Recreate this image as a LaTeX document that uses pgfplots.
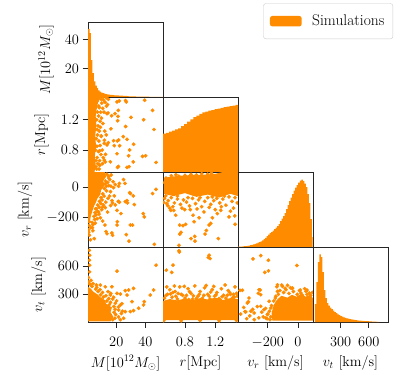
\documentclass[border=0pt]{standalone}
\usepackage{fontspec}
\usepackage{pgfplots}
\pgfplotsset{compat=1.18}
\definecolor{dorange}{RGB}{255,140,0}
\pgfplotsset{
  cp/.style={scale only axis, width=75pt, height=75pt, anchor=north west,
    axis line style={line width=0.8pt, black!85},
    tick style={line width=0.8pt, black!85},
    tick align=outside, major tick length=5.5pt,
    xtick pos=bottom, ytick pos=left,
    xtick=\empty, ytick=\empty,
    tick label style={font=\fontsize{14.4}{17}\selectfont},
    xticklabel style={yshift=-6pt},
    label style={font=\fontsize{14.4}{17}\selectfont},
    xlabel style={at={(axis description cs:0.5,-0.547)}, anchor=center},
    clip marker paths=true,
  },
  hist/.style={const plot, fill=dorange, draw=none},
  pts/.style={only marks, mark=*, mark size=1.7pt, color=dorange},
  core/.style={fill=dorange, draw=none},
}
\begin{document}
\begin{tikzpicture}
\useasboundingbox (0pt,0pt) rectangle (411pt,-389pt);
% ---------- row 1 ----------
\begin{axis}[cp, at={(88pt,-22pt)}, xmin=0.5, xmax=52.2, ymin=0.5, ymax=52.2,
  ytick={20,40}, ylabel={$M[10^{12}M_\odot]$},
  ylabel style={at={(axis description cs:-0.56,0.5)}, anchor=center},
  legend style={at={(2.337,1.249)}, anchor=north west, draw=black!20, rounded corners=2.5pt,
    font=\fontsize{15.5}{18}\selectfont, inner xsep=6.5pt, inner ysep=9.5pt,
    /tikz/every odd column/.append style={column sep=8.5pt}},
  legend image code/.code={\fill[dorange] (0pt,-5.3pt) rectangle (31.7pt,5.3pt);}]
\addplot[hist] coordinates {(0.55,0.5) (0.55,47.5) (1.55,44.6) (2.55,26) (3.55,17) (4.55,11.3) (5.55,8.3) (6.55,6.7) (7.55,5.1) (8.55,4.2) (9.55,3.6) (10.55,3.2) (11.55,2.8) (12.55,2.5) (13.55,2.3) (14.55,2.1) (15.55,2.0) (16.55,1.9) (17.55,1.8) (18.55,1.7) (19.55,1.6) (20.55,1.55) (21.55,1.5) (22.55,1.45) (23.55,1.4) (24.55,1.35) (25.55,1.3) (26.55,1.2) (27.55,1.1) (28.55,1.0) (30.55,0.9) (33.55,0.8) (37.55,0.7) (42.55,0.62) (47.55,0.58) (52.2,0.5)};
\addlegendentry{Simulations}
\end{axis}
% ---------- row 2 ----------
\begin{axis}[cp, at={(88pt,-97pt)}, xmin=0.5, xmax=52.2, ymin=0.51, ymax=1.5,
  ytick={0.8,1.2}, ylabel={$r[\mathrm{Mpc}]$},
  ylabel style={at={(axis description cs:-0.62,0.5)}, anchor=center}]
\addplot[core] coordinates {(0.5,0.51) (5,0.51) (5.8,0.6) (5.2,0.72) (6,0.85) (5.5,1.0) (6.3,1.12) (5.8,1.25) (6.8,1.38) (8,1.46) (10,1.5) (0.5,1.5)};
\addplot[pts] coordinates {(26.4,1.453) (39.5,1.457) (21.4,1.324) (14.3,1.289) (45.0,1.324) (30.1,1.231) (38.8,1.200) (16.8,1.253) (21.2,1.244) (20.9,1.187) (46.0,1.071) (16.3,1.080) (24.8,0.977) (27.4,0.942) (20.7,0.920) (18.6,0.857) (22.3,0.857) (31.9,0.876) (11.7,0.889) (20.5,0.751) (28.5,0.724) (38.1,0.716) (12.4,0.644) (47.4,0.636) (21.4,0.583) (28.8,0.580) (31.7,0.644) (8.5,0.600) (12.6,0.743) (14.5,0.897) (9.7,0.987)
(26.9,1.436) (22.1,1.449) (20.5,1.436) (14.0,1.40) (26.4,1.111) (19.1,1.28) (13.6,1.28) (29.2,0.80) (40.2,0.724) (27.4,0.571) (20.9,0.571) (15.9,0.644) (11.7,0.667) (18.1,0.923) (21.6,0.933) (13.1,1.0) (8.5,0.79) (13.6,0.867)
(6.5,0.55) (7.2,0.62) (6.8,0.7) (7.6,0.78) (6.6,0.85) (8.0,0.92) (7.1,1.0) (8.3,1.05) (7.4,1.12) (8.8,1.18) (7.8,1.25) (9.2,1.3) (8.2,1.36) (10.0,1.42) (9.5,1.47) (11.2,1.46) (12.3,1.43) (10.6,1.35) (9.8,1.22) (9.0,1.1) (9.6,0.98) (8.9,0.86) (9.4,0.74) (8.5,0.66) (8.2,0.55) (10.3,0.8) (10.8,1.15) (11.5,1.3) (8.6,0.6) (7.9,1.38) (5.9,0.58) (6.2,0.95) (6.4,1.2) (7.0,1.45) (14.5,1.47) (13.2,1.38) (12.1,1.05) (11.8,0.93) (10.5,0.62) (11.0,0.7) (6.0,0.66) (6.8,1.07) (7.0,1.3) (5.6,0.8) (10.8,1.5) (13.0,1.49)};
\end{axis}
\begin{axis}[cp, at={(163pt,-97pt)}, xmin=0.51, xmax=1.5, ymin=0, ymax=75]
\addplot[hist] coordinates {(0.51,0) (0.51,38.4) (0.55,39.2) (0.59,40.3) (0.63,41.4) (0.67,42.6) (0.71,43.7) (0.75,46.0) (0.79,47.9) (0.83,50.4) (0.87,52.6) (0.91,54.8) (0.95,56.4) (0.99,58.2) (1.03,59.6) (1.07,60.3) (1.11,61.4) (1.15,62.0) (1.19,62.8) (1.23,63.5) (1.27,64.2) (1.31,64.8) (1.35,65.3) (1.39,66.0) (1.43,66.5) (1.47,67.1) (1.5,0)};
\end{axis}
% ---------- row 3 ----------
\begin{axis}[cp, at={(88pt,-172pt)}, xmin=0.5, xmax=52.2, ymin=-398, ymax=100,
  ytick={-200,0}, ylabel={$v_r\ [\mathrm{km/s}]$},
  ylabel style={at={(axis description cs:-0.84,0.5)}, anchor=center}]
\addplot[core] coordinates {(0.5,100) (12,100) (13,70) (11,40) (12,10) (9.5,-20) (9,-50) (7,-75) (6,-100) (4.5,-130) (3.5,-160) (2.5,-190) (2,-220) (0.5,-240)};
\addplot[pts] coordinates {(14.7,71) (12.4,21) (16.3,6) (22.1,24) (19.3,17) (26.0,24) (29.2,-37) (47.4,-15) (45.0,-43) (31.7,-58) (22.1,-101) (26.2,-97) (27.8,-105) (32.4,-116) (17.0,-90) (16.1,-123) (20.5,-155) (23.2,-176) (14.0,-166) (9.0,-204) (10.6,-226) (12.2,-252) (20.7,-230) (20.5,-252) (29.7,-252) (31.2,-252) (38.6,-176) (39.3,-198) (12.9,-295) (17.4,-320) (26.9,-316) (28.8,-359) (4.8,-342) (46.2,-380) (1.4,-230) (0.9,-284)
(25.0,50) (21.6,6) (18.1,-4) (18.6,-58) (29.7,-43) (27.4,-90) (21.4,-95) (17.4,-105) (19.3,-118) (12.4,-137) (7.8,-166) (5.7,-144) (10.5,-133) (13.6,-310) (17.0,-305)
(13.5,85) (14.8,60) (12.6,40) (14,30) (13.2,5) (11.8,-10) (13.2,-25) (10.7,-45) (11.6,-60) (9.4,-70) (10.2,-85) (8.4,-95) (9.5,-110) (7.2,-120) (8.3,-135) (6.2,-145) (7.1,-160) (5.3,-170) (6.0,-185) (4.6,-195) (5.1,-215) (3.4,-235) (3.9,-250) (1.2,-255) (2.4,-270) (0.9,-300) (1.5,-320) (3.5,-270) (6.8,-210) (8.1,-180) (10.0,-150) (11.2,-120) (14.3,-75) (15.5,50) (14.8,10) (16.0,-30) (3.8,-290) (2.2,-350) (5.5,-240) (16.5,80) (17.8,35) (15.4,-60) (12.8,-100)};
\end{axis}
\begin{axis}[cp, at={(163pt,-172pt)}, xmin=0.51, xmax=1.5, ymin=-398, ymax=100]
\addplot[core] coordinates {(0.52,-45) (0.65,-60) (0.8,-40) (0.95,-65) (1.1,-50) (1.25,-70) (1.4,-45) (1.5,-60) (1.5,100) (1.3,100) (1.2,88) (1.05,82) (0.9,80) (0.75,76) (0.6,68) (0.52,58)};
\addplot[pts] coordinates {(0.797,-150) (0.651,-155) (0.612,-155) (0.678,-187) (0.731,-252) (0.774,-256) (0.81,-247) (0.92,-230) (0.906,-187) (0.986,-204) (1.118,-252) (1.14,-241) (1.161,-204) (1.272,-155) (1.227,-176) (1.382,-198) (1.457,-191) (1.461,-247) (0.748,-301) (0.731,-312) (0.88,-342) (0.933,-359) (0.929,-327) (1.082,-288) (1.24,-342) (0.72,-387) (1.065,-312) (0.546,-58) (0.572,-123) (0.52,-101)
(0.55,60) (0.62,75) (0.68,82) (0.8,78) (0.88,84) (0.95,80) (1.02,88) (1.1,85) (1.15,92) (0.72,72) (0.58,50) (0.53,30)
(0.53,-75) (0.58,-90) (0.62,-70) (0.66,-105) (0.7,-80) (0.74,-115) (0.78,-85) (0.82,-100) (0.86,-125) (0.9,-75) (0.94,-110) (0.98,-85) (1.02,-130) (1.06,-95) (1.1,-70) (1.14,-115) (1.18,-90) (1.22,-75) (1.26,-105) (1.3,-80) (1.34,-120) (1.38,-65) (1.42,-95) (1.46,-70) (1.49,-105) (0.64,-130) (0.76,-140) (0.96,-145) (1.12,-135) (1.28,-130) (1.44,-140) (0.56,-110) (0.84,-70) (1.0,-70) (1.16,-65) (1.32,-60) (0.7,-60) (0.87,-150) (1.2,-150) (1.4,-160) (0.6,-140) (1.05,-165)};
\end{axis}
\begin{axis}[cp, at={(238pt,-172pt)}, xmin=-398, xmax=100, ymin=0, ymax=75]
\addplot[hist] coordinates {(-398,0) (-398,0.3) (-388,0.4) (-378,0.5) (-368,0.6) (-358,0.8) (-348,1.0) (-338,1.2) (-328,1.5) (-318,1.8) (-308,2.2) (-298,2.7) (-288,3.2) (-278,3.7) (-268,4.3) (-258,5.0) (-248,5.7) (-238,6.6) (-228,7.8) (-218,9.2) (-208,10.8) (-198,12.5) (-188,13.8) (-178,15.0) (-168,16.5) (-158,18) (-148,19.5) (-138,21) (-128,23) (-118,26) (-108,28.5) (-98,31) (-88,34) (-78,38) (-68,42) (-58,46) (-48,49.5) (-38,53) (-28,56.5) (-18,59.5) (-8,62) (2,64.5) (12,66.5) (22,67.5) (32,66) (42,63.5) (52,60) (62,53) (72,44) (82,28) (92,10) (98,0)};
\end{axis}
% ---------- row 4 ----------
\begin{axis}[cp, at={(88pt,-247pt)}, xmin=0.5, xmax=52.2, ymin=5, ymax=805,
  xtick={20,40}, ytick={300,600}, xlabel={$M[10^{12}M_\odot]$}, ylabel={$v_t\ [\mathrm{km/s}]$},
  ylabel style={at={(axis description cs:-0.66,0.5)}, anchor=center}]
\addplot[core] coordinates {(0.5,12) (16,12) (18,60) (16,110) (17,160) (13,200) (12,240) (9,270) (7,300) (4,330) (2.5,360) (0.5,380)};
\addplot[pts] coordinates {(1.4,770) (1.6,717) (1.4,664) (1.6,611) (1.6,540) (20.5,547) (47.4,611) (45.7,346) (43.4,293) (31.9,364) (28.5,346) (26.2,339) (22.8,304) (20.5,311) (17.0,381) (12.4,381) (9.0,399) (19.3,205) (22.8,187) (27.4,293) (30.8,222) (29.7,116) (31.9,127) (39.3,222) (38.8,187) (35.4,152) (26.2,116) (21.6,134) (18.1,269) (15.9,293)
(17.5,30) (19,45) (19.5,85) (18.5,110) (19.2,140) (18.3,170) (15.2,190) (16.0,215) (13.5,230) (14.8,255) (11,270) (12.8,285) (9.2,295) (10.5,320) (7.5,330) (8.8,350) (5.8,355) (6.5,375) (3.2,385) (2.0,405) (1.0,430) (2.6,450) (0.8,480) (4.0,415) (6.3,400) (21.5,60) (22.8,30) (23.5,95) (21.5,165) (24.2,120) (25,45) (17.5,250) (16.2,310) (14.3,330) (20.2,230) (23.8,200)};
\end{axis}
\begin{axis}[cp, at={(163pt,-247pt)}, xmin=0.51, xmax=1.5, ymin=5, ymax=805,
  xtick={0.8,1.2}, xlabel={$r[\mathrm{Mpc}]$}]
\addplot[core] coordinates {(0.51,25) (1.5,25) (1.5,250) (1.4,260) (1.3,240) (1.2,265) (1.1,245) (1.0,260) (0.9,240) (0.8,255) (0.7,235) (0.6,250) (0.51,230)};
\addplot[pts] coordinates {(0.721,763) (1.118,717) (1.131,682) (0.554,558) (0.642,611) (0.625,534) (0.725,752) (1.108,693)
(0.53,260) (0.57,300) (0.6,350) (0.63,270) (0.67,330) (0.7,250) (0.73,380) (0.77,290) (0.8,260) (0.84,360) (0.88,310) (0.9,250) (0.93,390) (0.97,280) (1.0,330) (1.03,260) (1.06,370) (1.1,300) (1.13,250) (1.16,350) (1.19,280) (1.22,320) (1.25,255) (1.28,360) (1.31,290) (1.34,260) (1.37,340) (1.4,300) (1.43,265) (1.46,380) (1.48,310) (0.56,380) (0.66,390) (0.79,385) (1.08,395) (1.18,385) (1.33,400) (1.45,270) (0.95,255) (0.71,310) (1.26,245) (1.41,245) (0.85,245)
(0.55,290) (0.61,305) (0.68,280) (0.75,300) (0.82,290) (0.91,285) (0.99,300) (1.05,290) (1.12,280) (1.21,295) (1.29,275) (1.36,290) (1.44,300) (1.49,280) (0.64,320) (0.86,330) (1.14,325) (1.39,320) (0.52,20) (0.75,18) (1.0,20) (1.25,18) (1.48,22)};
\end{axis}
\begin{axis}[cp, at={(238pt,-247pt)}, xmin=-398, xmax=100, ymin=5, ymax=805,
  xtick={-200,0}, xlabel={$v_r\ [\mathrm{km/s}]$}]
\addplot[core] coordinates {(-170,20) (100,20) (100,260) (80,295) (50,275) (20,305) (-10,275) (-40,295) (-70,265) (-110,285) (-140,240) (-160,190) (-175,100)};
\addplot[pts] coordinates {(-298,678) (-247,714) (-220,534) (-196,551) (-7,608) (-196,664)
(-385,343) (-369,343) (-325,261) (-258,349) (-247,296) (-336,208) (-313,120) (-291,102) (-247,173) (-225,137) (-203,84) (-347,113) (-213,49) (-191,226) (-180,155) (-136,402) (-103,385) (-69,396) (-36,367) (20,314) (53,332) (75,314) (-136,332) (-147,279)
(-329,222) (-351,116) (-251,346) (-263,311) (-140,381) (-107,399) (-85,364) (-40,364) (15,346) (60,346)
(-180,60) (-190,120) (-175,180) (-185,30) (-160,230) (-150,260) (-130,300) (-120,340) (-95,320) (-60,310) (-30,330) (-5,300) (30,290) (60,300) (85,290) (95,320) (-80,350) (-50,370) (10,340) (45,360) (-200,90) (-205,40) (-215,150) (-230,60) (-240,110) (-260,50) (-270,170) (-290,30) (-300,140) (-320,70) (-340,40) (-360,160) (-380,90)};
\end{axis}
\begin{axis}[cp, at={(313pt,-247pt)}, xmin=5, xmax=805, ymin=0, ymax=75,
  xtick={300,600}, xlabel={$v_t\ [\mathrm{km/s}]$}]
\addplot[hist] coordinates {(24,0) (24,18) (40,40) (56,60) (72,67.7) (88,65) (104,50) (120,32) (136,24) (152,19) (168,16.5) (184,14.5) (200,12.8) (216,11.3) (232,10) (248,8.8) (264,7.7) (280,6.8) (296,6.0) (312,5.3) (328,4.7) (344,4.2) (360,3.7) (376,3.3) (392,3.0) (408,2.7) (424,2.4) (440,2.1) (456,1.9) (472,1.7) (488,1.5) (504,1.35) (520,1.2) (536,1.1) (552,1.0) (568,0.9) (584,0.8) (600,0.7) (616,0.6) (632,0.5) (648,0.4) (664,0.3) (680,0.25) (696,0.2) (712,0)};
\end{axis}
\end{tikzpicture}
\end{document}
